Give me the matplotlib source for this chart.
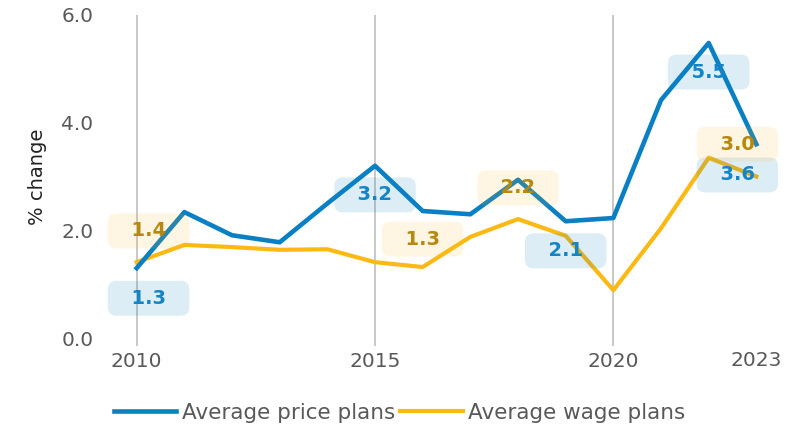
import matplotlib
matplotlib.use('Agg')
import matplotlib.pyplot as plt

plt.rc('font', family='DejaVu Sans')

# data
years = [2010, 2011, 2012, 2013, 2014, 2015, 2016, 2017, 2018, 2019, 2020, 2021, 2022, 2023]
price_plans = [1.3, 2.34, 1.91, 1.78, 2.5, 3.2, 2.36, 2.3, 2.94, 2.17, 2.23, 4.42, 5.48, 3.6]
wage_plans = [1.41, 1.73, 1.69, 1.64, 1.65, 1.41, 1.32, 1.88, 2.21, 1.9, 0.89, 2.04, 3.35, 3.0]

# callout labels: (x, y, text)
price_labels = [(2010.25, 0.74, '1.3'), (2015.0, 2.66, '3.2'), (2019.0, 1.62, '2.1'),
                (2022.0, 4.94, '5.5'), (2022.6, 3.03, '3.6')]
wage_labels = [(2010.25, 1.99, '1.4'), (2016.0, 1.84, '1.3'), (2018.0, 2.79, '2.2'),
               (2022.6, 3.60, '3.0')]

major_years = [2010, 2015, 2020]
yticks = [0, 2, 4, 6]

blue = '#0a80c4'
orange = '#fdb913'
grey_txt = '#595959'
grid_col = '#bfbfbf'

fig = plt.figure(figsize=(8.06, 4.28), dpi=100)
ax = fig.add_axes([0.140, 0.210, 0.828, 0.755])

ax.plot(years, price_plans, color=blue, lw=3.3, label='Average price plans', zorder=3)
ax.plot(years, wage_plans, color=orange, lw=3.0, label='Average wage plans', zorder=2)

pad = '  \u200a'

# translucent boxes sit over the lines, numbers on top of their box
for x, y, t in price_labels:
    ax.text(x, y, pad + t + pad, ha='center', va='center', fontsize=14, fontweight='bold',
            color='#1385c6', zorder=4,
            bbox=dict(boxstyle='round,pad=0.41,rounding_size=0.45', fc=blue, ec='none', alpha=0.14))
for x, y, t in wage_labels:
    ax.text(x, y, pad + t + pad, ha='center', va='center', fontsize=14, fontweight='bold',
            color='#b8870f', zorder=4,
            bbox=dict(boxstyle='round,pad=0.41,rounding_size=0.45', fc=orange, ec='none', alpha=0.12))

ax.set_xlim(2009.5, 2023.5)
ax.set_ylim(0, 6)
ax.set_xticks(major_years)
ax.set_xticks([2023], minor=True)
ax.set_xticklabels([str(y) for y in major_years])
ax.set_xticklabels(['2023'], minor=True)
ax.set_yticks(yticks)
ax.set_yticklabels(['%.1f' % v for v in yticks])

ax.grid(axis='x', which='major', color=grid_col, lw=1.2)
ax.tick_params(axis='x', which='major', length=6, color=grid_col, width=1.2, pad=4,
               labelsize=14.5, labelcolor=grey_txt)
ax.tick_params(axis='x', which='minor', length=0, pad=9, labelsize=14.5, labelcolor=grey_txt)
ax.tick_params(axis='y', length=0, pad=14, labelsize=14.5, labelcolor=grey_txt)

for s in ax.spines.values():
    s.set_visible(False)

ax.set_ylabel('% change', fontsize=14, color='#222222', labelpad=10)

ax.legend(loc='upper center', bbox_to_anchor=(0.43, -0.14), ncol=2, frameon=False,
          fontsize=15.5, handlelength=2.9, handletextpad=0.25, columnspacing=0.25,
          labelcolor=grey_txt)

fig.savefig('out.png', dpi=100)
